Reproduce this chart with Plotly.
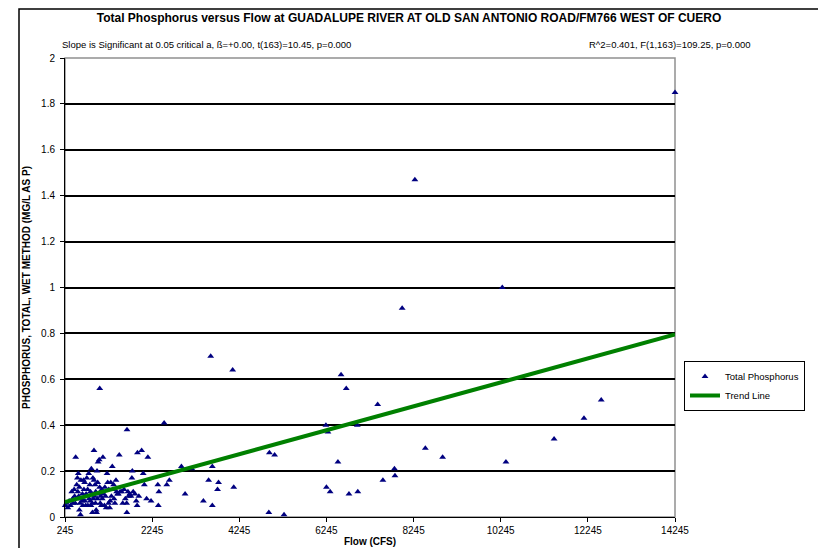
import plotly.graph_objects as go

# Scatter data: flow (CFS) vs total phosphorus (mg/L as P)
flow = [
    # high-flow / outliers
    14245, 8275, 10281, 7983, 3589, 4093, 6581, 6700, 1042, 7421, 12552, 12156,
    6233, 6280, 6954, 2520, 1668, 11470, 8515, 8912, 10365, 6509, 7806, 7818,
    7541, 6245, 6330, 6762, 6965, 4936, 5056, 4923, 5272, 4118, 3626, 3541,
    3769, 3746, 3421, 3626, 3001, 2917, 3156, 2640, 2581, 2387, 2400, 2375,
    2220, 2147, 2004, 1908, 2040, 2118, 2066,
    # dense low-flow cluster
    250, 310, 370, 430, 490, 465, 515, 530, 550, 575, 575, 600, 610, 635, 645,
    670, 695, 730, 765, 790, 815, 825, 850, 860, 875, 885, 910, 910, 935, 945,
    970, 980, 995, 1005, 1020, 1030, 1055, 1065, 1090, 1115, 1150, 1175, 1210,
    1225, 1245, 1270, 1295, 1310, 1330, 1345, 1370, 1390, 1415, 1450, 1490,
    1510, 1545, 1570, 1600, 1630, 1660, 1665, 1690, 1705, 1730, 1760, 1780,
    1790, 1810, 1850, 1880, 1900, 1940,
    280, 340, 400, 420, 455, 480, 505, 540, 560, 590, 620, 655, 680, 700, 720,
    745, 770, 800, 830, 840, 870, 895, 920, 950, 960, 990, 1040, 1080, 1100,
    1130, 1160, 1190, 1250, 1280, 1360, 1430, 1470,
]
phosphorus = [
    1.85, 1.47, 1.00, 0.91, 0.70, 0.64, 0.62, 0.56, 0.56, 0.49, 0.51, 0.43,
    0.40, 0.37, 0.40, 0.41, 0.38, 0.34, 0.30, 0.26, 0.24, 0.24, 0.21, 0.18,
    0.16, 0.13, 0.11, 0.10, 0.11, 0.28, 0.27, 0.02, 0.01, 0.13, 0.22, 0.16,
    0.15, 0.12, 0.07, 0.05, 0.10, 0.22, 0.21, 0.16, 0.14, 0.05, 0.11, 0.14,
    0.07, 0.26, 0.29, 0.28, 0.19, 0.08, 0.14,
    0.05, 0.04, 0.05, 0.06, 0.26, 0.09, 0.14, 0.17, 0.19, 0.13, 0.03, 0.01,
    0.16, 0.07, 0.10, 0.16, 0.15, 0.10, 0.12, 0.19, 0.14, 0.07, 0.21, 0.10,
    0.02, 0.17, 0.29, 0.16, 0.14, 0.06, 0.02, 0.20, 0.15, 0.24, 0.10, 0.25,
    0.06, 0.09, 0.12, 0.26, 0.05, 0.09, 0.19, 0.15, 0.06, 0.04, 0.15, 0.09,
    0.22, 0.12, 0.08, 0.06, 0.16, 0.10, 0.27, 0.11, 0.11, 0.06, 0.12, 0.08,
    0.06, 0.02, 0.11, 0.09, 0.10, 0.09, 0.17, 0.20, 0.11, 0.10, 0.07, 0.05,
    0.09,
    0.06, 0.07, 0.11, 0.08, 0.12, 0.06, 0.08, 0.11, 0.09, 0.06, 0.08, 0.05,
    0.12, 0.07, 0.05, 0.17, 0.05, 0.08, 0.11, 0.05, 0.06, 0.08, 0.09, 0.11,
    0.03, 0.08, 0.13, 0.05, 0.08, 0.10, 0.13, 0.04, 0.12, 0.07, 0.14, 0.11,
    0.10,
]

trend_x = [245, 14245]
trend_y = [0.065, 0.795]

x_ticks = [245, 2245, 4245, 6245, 8245, 10245, 12245, 14245]
y_ticks = [0, 0.2, 0.4, 0.6, 0.8, 1, 1.2, 1.4, 1.6, 1.8, 2]

title_text = "Total Phosphorus versus Flow at GUADALUPE RIVER AT OLD SAN ANTONIO ROAD/FM766 WEST OF CUERO"
slope_text = "Slope is Significant at 0.05 critical a, ß=+0.00, t(163)=10.45, p=0.000"
r2_text = "R^2=0.401, F(1,163)=109.25, p=0.000"

FONT = "Liberation Sans, Arial, sans-serif"

fig = go.Figure()
fig.add_trace(go.Scatter(
    x=flow, y=phosphorus, mode="markers", name="Total Phosphorus",
    marker=dict(symbol="triangle-up", size=6, color="#000080"),
    cliponaxis=False,
))
fig.add_trace(go.Scatter(
    x=trend_x, y=trend_y, mode="lines", name="Trend Line",
    line=dict(color="#008000", width=4),
))

fig.update_layout(
    width=818, height=548,
    margin=dict(l=65, r=143, t=58, b=31, autoexpand=False),
    paper_bgcolor="white", plot_bgcolor="white",
    font=dict(family=FONT, size=10, color="black"),
    title=dict(text="<b>" + title_text + "</b>", x=0.5, xanchor="center",
               y=1 - 18 / 548, yanchor="middle", font=dict(size=12)),
    showlegend=True,
    legend=dict(x=(684 - 65) / 610, y=(517 - 361) / 459, xanchor="left", yanchor="top",
                bordercolor="black", borderwidth=1, bgcolor="white",
                font=dict(size=9.5), tracegroupgap=0, itemwidth=30),
    xaxis=dict(range=[245, 14245], tickvals=x_ticks, ticktext=[str(v) for v in x_ticks],
               ticks="outside", ticklen=4, tickcolor="black",
               showline=True, linecolor="black", linewidth=1,
               showgrid=False, zeroline=False, automargin=False,
               tickfont=dict(size=10),
               title=dict(text="<b>Flow (CFS)</b>", font=dict(size=10), standoff=2)),
    yaxis=dict(range=[0, 2], tickvals=y_ticks, ticktext=[f"{v:g}" for v in y_ticks],
               ticks="outside", ticklen=4, tickcolor="black",
               showline=True, linecolor="black", linewidth=1,
               showgrid=True, gridcolor="black", gridwidth=1.5, zeroline=False,
               automargin=False,
               tickfont=dict(size=10), ticklabelstandoff=3,
               title=dict(text="<b>PHOSPHORUS, TOTAL, WET METHOD (MG/L AS P)</b>",
                          font=dict(size=10), standoff=8)),
)

# plot-area border (gray) and outer chart frame
fig.add_shape(type="rect", xref="paper", yref="paper", x0=0, x1=1, y0=0, y1=1,
              line=dict(color="#909090", width=1.5), layer="below")
fig.add_shape(type="rect", xref="paper", yref="paper",
              x0=(19 - 65) / 610, x1=(840 - 65) / 610,
              y0=(517 - 570) / 459, y1=(517 - 9) / 459,
              line=dict(color="black", width=1.5), layer="below")

fig.add_annotation(text=slope_text, xref="paper", yref="paper",
                   x=(60 - 65) / 610, y=(517 - 44) / 459, xanchor="left", yanchor="middle",
                   showarrow=False, font=dict(size=9.5))
fig.add_annotation(text=r2_text, xref="paper", yref="paper",
                   x=(753 - 65) / 610, y=(517 - 44) / 459, xanchor="right", yanchor="middle",
                   showarrow=False, font=dict(size=9.5))

fig.write_html("out.html", config={"displayModeBar": False},
               post_script="document.body.style.margin='0';")
